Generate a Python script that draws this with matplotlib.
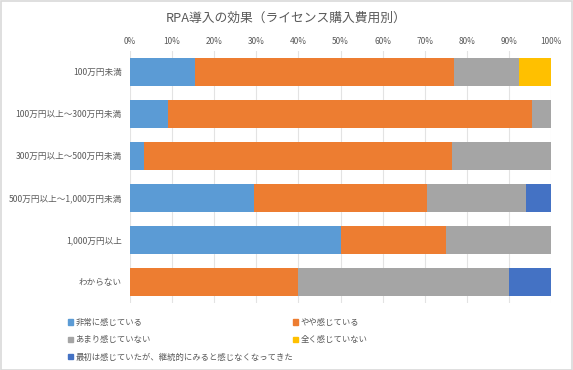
import matplotlib
matplotlib.use("Agg")
import matplotlib.pyplot as plt
from matplotlib.patches import Patch, Rectangle
import numpy as np

plt.rcParams['font.family'] = ['Noto Sans CJK JP', 'DejaVu Sans']

categories = ["100万円未満", "100万円以上～300万円未満", "300万円以上～500万円未満",
              "500万円以上～1,000万円未満", "1,000万円以上", "わからない"]
series_names = ["非常に感じている", "やや感じている", "あまり感じていない", "全く感じていない",
                "最初は感じていたが、継続的にみると感じなくなってきた"]
very = [15.4, 9.1, 3.3, 29.4, 50.0, 0.0]
somewhat = [61.5, 86.4, 73.3, 41.2, 25.0, 40.0]
not_much = [15.4, 4.5, 23.3, 23.5, 25.0, 50.0]
not_at_all = [7.7, 0.0, 0.0, 0.0, 0.0, 0.0]
faded = [0.0, 0.0, 0.0, 5.9, 0.0, 10.0]
xticks = [0, 10, 20, 30, 40, 50, 60, 70, 80, 90, 100]

colors = ["#5B9BD5", "#ED7D31", "#A5A5A5", "#FFC000", "#4472C4"]
series = [very, somewhat, not_much, not_at_all, faded]

fig = plt.figure(figsize=(5.73, 3.70), dpi=100)
fig.patch.set_facecolor("white")
fig.add_artist(Rectangle((0.001, 0.001), 0.997, 0.996, transform=fig.transFigure,
                         fill=False, edgecolor="#D9D9D9", linewidth=1.2))

ax = fig.add_axes([130/573, 1-303/370, 421/573, (303-50.5)/370])
y = np.arange(len(categories))
left = np.zeros(len(categories))
handles = []
for name, vals, c in zip(series_names, series, colors):
    v = np.array(vals)
    ax.barh(y, v, left=left, height=0.667, color=c, zorder=3)
    left += v
    handles.append(Patch(facecolor=c, edgecolor=c, label=name))

ax.set_xlim(0, 100)
ax.set_ylim(len(categories)-0.5, -0.5)
ax.set_yticks(y)
ax.set_yticklabels(categories, fontsize=6.2, color="#595959")
ax.set_xticks(xticks)
ax.set_xticklabels([f"{t}%" for t in xticks], fontsize=6, color="#595959")
ax.xaxis.tick_top()
ax.tick_params(axis='both', length=0)
ax.tick_params(axis='x', pad=3.5)
ax.tick_params(axis='y', pad=6)
ax.grid(axis='x', color="#E3E3E3", linewidth=0.8, zorder=0)
for s in ax.spines.values():
    s.set_visible(False)

fig.text(286/573, 1-18/370, "RPA導入の効果（ライセンス購入費用別）", ha='center', va='center',
         fontsize=9.2, color="#595959")

order = [0, 2, 4, 1, 3]
leg = fig.legend([handles[i] for i in order], [series_names[i] for i in order],
                 ncol=2, loc='upper left', bbox_to_anchor=(68/573, 1-318/370),
                 frameon=False, fontsize=6.0, handlelength=0.6, handleheight=0.6,
                 handletextpad=0.3, columnspacing=0.0, labelspacing=1.0,
                 borderaxespad=0, borderpad=0)
for t in leg.get_texts():
    t.set_color("#595959")

fig.savefig("out.png", dpi=100, facecolor="white")
